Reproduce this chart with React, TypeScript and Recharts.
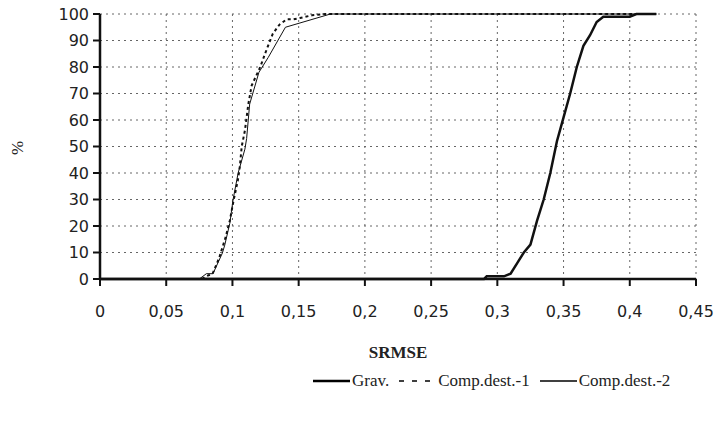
import { LineChart, Line, XAxis, YAxis, CartesianGrid, Legend } from "recharts"

const xTicks = [0, 0.05, 0.1, 0.15, 0.2, 0.25, 0.3, 0.35, 0.4, 0.45]
const yTicks = [0, 10, 20, 30, 40, 50, 60, 70, 80, 90, 100]

// Grav. (thick solid)
const gravX = [0, 0.29, 0.292, 0.305, 0.31, 0.315, 0.32, 0.325, 0.33, 0.335, 0.34, 0.345, 0.35, 0.355, 0.36, 0.365, 0.37, 0.375, 0.38, 0.4, 0.405, 0.42]
const gravY = [0, 0, 1, 1, 2, 6, 10, 13, 22, 30, 40, 52, 61, 70, 80, 88, 92, 97, 99, 99, 100, 100]

// Comp.dest.-1 (dashed)
const dest1X = [0, 0.077, 0.08, 0.085, 0.09, 0.095, 0.098, 0.101, 0.104, 0.1056, 0.107, 0.1094, 0.112, 0.1145, 0.121, 0.1246, 0.1304, 0.1355, 0.141, 0.146, 0.151, 0.16, 0.17, 0.42]
const dest1Y = [0, 0, 1, 2, 8, 16, 22, 30, 37, 42.5, 50, 56, 66, 73, 80, 85, 92.5, 96, 98, 98, 98.5, 99.5, 100, 100]

// Comp.dest.-2 (thin solid)
const dest2X = [0, 0.075, 0.0803, 0.0853, 0.0924, 0.0942, 0.098, 0.1005, 0.1043, 0.1094, 0.1107, 0.113, 0.12, 0.127, 0.14, 0.174, 0.42]
const dest2Y = [0, 0, 2, 2, 9.8, 12.8, 21, 30, 40, 49, 53, 66, 78, 83.6, 95, 100, 100]

const toPoints = (xs: number[], ys: number[]) => xs.map((x, i) => ({ x, y: ys[i] }))

const grav = toPoints(gravX, gravY)
const dest1 = toPoints(dest1X, dest1Y)
const dest2 = toPoints(dest2X, dest2Y)

const tickFont = { fontFamily: "DejaVu Sans", fontSize: 16, fill: "#222" }
const fmtX = (v: number) => String(v).replace(".", ",")

function LegendBox() {
  const item = (label: string, line: any) => (
    <span style={{ display: "inline-flex", alignItems: "center", marginRight: 10 }}>
      <svg width={37} height={10} style={{ marginRight: 2 }}>
        <line x1={0} y1={5} x2={37} y2={5} stroke="#000" {...line} />
      </svg>
      {label}
    </span>
  )
  return (
    <div
      style={{
        height: 32,
        display: "flex",
        alignItems: "center",
        justifyContent: "flex-start",
        paddingLeft: 313,
        fontFamily: "Liberation Serif",
        fontSize: 17,
        color: "#222",
      }}
    >
      {item("Grav.", { strokeWidth: 2.5 })}
      {item("Comp.dest.-1", { strokeWidth: 1.5, strokeDasharray: "5 8" })}
      {item("Comp.dest.-2", { strokeWidth: 1.3 })}
    </div>
  )
}

export default function App() {
  return (
    <div style={{ position: "absolute", left: 0, top: 0 }}>
      <LineChart width={716} height={397} margin={{ top: 14, right: 20, left: 0, bottom: 0 }}>
        <CartesianGrid stroke="#666" strokeDasharray="2 4" />
        <XAxis
          dataKey="x"
          type="number"
          domain={[0, 0.45]}
          ticks={xTicks}
          interval={0}
          tickFormatter={fmtX}
          tick={tickFont}
          tickSize={7}
          tickMargin={20}
          height={86}
          axisLine={{ stroke: "#111", strokeWidth: 2.5 }}
          tickLine={{ stroke: "#111", strokeWidth: 2 }}
          label={{
            value: "SRMSE",
            position: "insideBottom",
            offset: 7,
            style: { fontFamily: "Liberation Serif", fontWeight: "bold", fontSize: 17, fill: "#222" },
          }}
        />
        <YAxis
          type="number"
          domain={[0, 100]}
          ticks={yTicks}
          interval={0}
          tick={tickFont}
          tickSize={7}
          tickMargin={4}
          width={100}
          axisLine={{ stroke: "#111", strokeWidth: 2.5 }}
          tickLine={{ stroke: "#111", strokeWidth: 2 }}
        />
        <Legend verticalAlign="bottom" content={() => <LegendBox />} />
        <text
          x={19}
          y={148}
          transform="rotate(-90 19 148)"
          textAnchor="middle"
          dominantBaseline="middle"
          fontFamily="Liberation Serif"
          fontSize={17}
          fill="#222"
        >
          %
        </text>
        <Line data={grav} dataKey="y" type="linear" stroke="#111" strokeWidth={2.5} dot={false} isAnimationActive={false} />
        <Line data={dest1} dataKey="y" type="linear" stroke="#111" strokeWidth={2} strokeDasharray="3 3" dot={false} isAnimationActive={false} />
        <Line data={dest2} dataKey="y" type="linear" stroke="#111" strokeWidth={1} dot={false} isAnimationActive={false} />
      </LineChart>
    </div>
  )
}
